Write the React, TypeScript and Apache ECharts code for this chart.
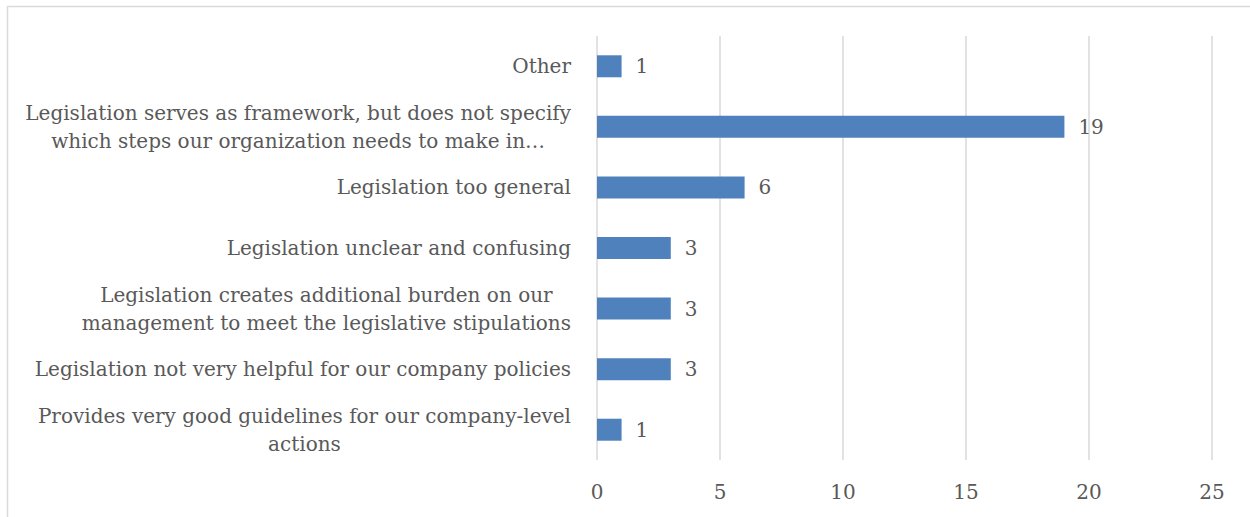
import React, { useEffect, useRef } from "react";
import * as echarts from "echarts";

const categories: string[] = [
  "Provides very good guidelines for our company-level\nactions",
  "Legislation not very helpful for our company policies",
  "Legislation creates additional burden on our\nmanagement to meet the legislative stipulations",
  "Legislation unclear and confusing",
  "Legislation too general",
  "Legislation serves as framework, but does not specify\nwhich steps our organization needs to make in…",
  "Other",
];
const values: number[] = [1, 3, 3, 3, 6, 19, 1];
const xTicks = { min: 0, max: 25, interval: 5 };

const FONT = "'DejaVu Serif', serif";
const TEXT = "#595959";
const FS = 20;

export default function App() {
  const ref = useRef<HTMLDivElement>(null);
  useEffect(() => {
    if (!ref.current) return;
    const chart = echarts.init(ref.current, undefined, { renderer: "svg" });
    chart.setOption({
      animation: false,
      backgroundColor: "#ffffff",
      graphic: [
        {
          type: "rect",
          shape: { x: 7.5, y: 6.5, width: 1300, height: 600 },
          style: { fill: "none", stroke: "#d9d9d9", lineWidth: 1.5 },
          silent: true,
        },
      ],
      grid: { left: 597, right: 38, top: 36, bottom: 57, containLabel: false },
      xAxis: {
        type: "value",
        min: xTicks.min,
        max: xTicks.max,
        interval: xTicks.interval,
        axisLine: { show: false },
        axisTick: { show: false },
        splitLine: { show: true, lineStyle: { color: "#d9d9d9", width: 1.5 } },
        axisLabel: {
          color: TEXT,
          fontFamily: FONT,
          fontSize: FS,
          margin: 22,
        },
      },
      yAxis: {
        type: "category",
        data: categories,
        axisLine: { show: false },
        axisTick: { show: false },
        splitLine: { show: false },
        axisLabel: {
          color: TEXT,
          fontFamily: FONT,
          fontSize: FS,
          margin: 26,
          lineHeight: 28,
          formatter: (v: string) =>
            v
              .split("\n")
              .map((l) => "{c|" + l + "}")
              .join("\n"),
          rich: {
            c: {
              align: "center",
              color: TEXT,
              fontFamily: FONT,
              fontSize: FS,
              lineHeight: 28,
            },
          },
        },
      },
      series: [
        {
          type: "bar",
          data: values,
          barWidth: 22,
          itemStyle: { color: "#4F81BD" },
          label: {
            show: true,
            position: "right",
            distance: 14,
            color: TEXT,
            fontFamily: FONT,
            fontSize: FS,
          },
        },
      ],
    });
    return () => chart.dispose();
  }, []);
  return (
    <div
      ref={ref}
      style={{ position: "fixed", left: 0, top: 0, width: 1250, height: 517 }}
    />
  );
}
